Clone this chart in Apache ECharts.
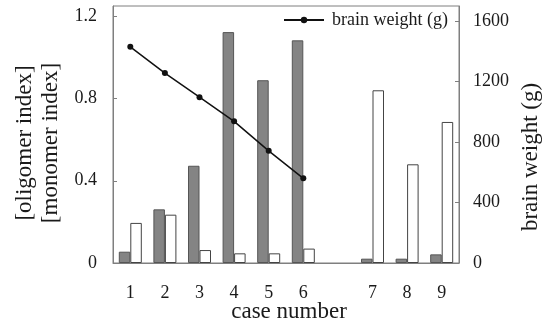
<!DOCTYPE html>
<html>
<head>
<meta charset="utf-8">
<script src="https://cdn.jsdelivr.net/npm/echarts@6/dist/echarts.min.js"></script>
<style>html,body{margin:0;padding:0;background:#fff}#c{width:545px;height:324px}</style>
</head>
<body>
<div id="c"></div>
<script>
var categories = ['1', '2', '3', '4', '5', '6', '', '7', '8', '9'];
var oligomerIndex = [0.055, 0.261, 0.473, 1.123, 0.889, 1.083, null, 0.021, 0.021, 0.042];
var monomerIndex = [0.195, 0.235, 0.063, 0.047, 0.047, 0.070, null, 0.840, 0.480, 0.686];
var brainWeight = [1430, 1256, 1097, 937, 742, 560, null, null, null, null];
var leftTicks = [0, 0.4, 0.8, 1.2];
var rightTicks = [0, 400, 800, 1200, 1600];

var FONT = "'Liberation Serif', 'Times New Roman', serif";
var TXT = '#1a1a1a';
var AX = '#7f7f7f';

var chart = echarts.init(document.getElementById('c'), null, {renderer: 'canvas'});
chart.setOption({
  animation: false,
  backgroundColor: '#fff',
  textStyle: {fontFamily: FONT},
  grid: {left: 113, right: 86, top: 6, bottom: 61, show: true, borderColor: AX, borderWidth: 1},
  legend: {
    data: ['brain weight (g)'],
    left: 283, top: 11, padding: 0,
    itemWidth: 40, itemHeight: 8,
    itemGap: 0,
    textStyle: {fontFamily: FONT, fontSize: 18, color: TXT, padding: [0, 0, 0, 3]}
  },
  xAxis: {
    type: 'category',
    data: categories,
    axisLine: {lineStyle: {color: AX, width: 1}},
    axisTick: {inside: true, length: 4, interval: 0, lineStyle: {color: AX}},
    axisLabel: {interval: 0, margin: 21, fontFamily: FONT, fontSize: 18, color: TXT},
    splitLine: {show: false}
  },
  yAxis: [{
    type: 'value', min: 0, max: 1.25, interval: 0.4,
    axisLine: {show: true, lineStyle: {color: AX}},
    axisTick: {show: true, inside: true, length: 4, lineStyle: {color: AX}},
    axisLabel: {margin: 16, fontFamily: FONT, fontSize: 18, color: TXT, showMaxLabel: false,
      formatter: function (v) { return leftTicks.indexOf(Math.round(v * 10) / 10) >= 0 ? String(Math.round(v * 10) / 10) : ''; }},
    splitLine: {show: false}
  }, {
    type: 'value', min: 0, max: 1700, interval: 400, position: 'right',
    axisLine: {show: true, lineStyle: {color: AX}},
    axisTick: {show: true, inside: true, length: 4, lineStyle: {color: AX}},
    axisLabel: {margin: 14, fontFamily: FONT, fontSize: 18, color: TXT, showMaxLabel: false,
      formatter: function (v) { return rightTicks.indexOf(v) >= 0 ? String(v) : ''; }},
    splitLine: {show: false}
  }],
  series: [{
    name: 'oligomer index', type: 'bar', yAxisIndex: 0,
    data: oligomerIndex, barWidth: 11.5, barGap: '0%',
    itemStyle: {color: '#848484', borderColor: '#555', borderWidth: 1}
  }, {
    name: 'monomer index', type: 'bar', yAxisIndex: 0,
    data: monomerIndex, barWidth: 11.5, barGap: '0%',
    itemStyle: {color: '#fff', borderColor: '#444', borderWidth: 1}
  }, {
    name: 'brain weight (g)', type: 'line', yAxisIndex: 1,
    data: brainWeight, symbol: 'circle', symbolSize: 6,
    lineStyle: {color: '#111', width: 1.5},
    itemStyle: {color: '#111'}
  }],
  graphic: [{
    type: 'text', x: 38, y: 143, rotation: Math.PI / 2,
    style: {text: '[oligomer index]\n[monomer index]', font: '23px ' + FONT, fill: TXT,
      align: 'center', verticalAlign: 'middle', lineHeight: 26}
  }, {
    type: 'text', x: 531, y: 157, rotation: Math.PI / 2,
    style: {text: 'brain weight (g)', font: '23px ' + FONT, fill: TXT,
      align: 'center', verticalAlign: 'middle'}
  }, {
    type: 'text', x: 289, y: 312,
    style: {text: 'case number', font: '23px ' + FONT, fill: TXT,
      align: 'center', verticalAlign: 'middle'}
  }]
});
</script>
</body>
</html>
